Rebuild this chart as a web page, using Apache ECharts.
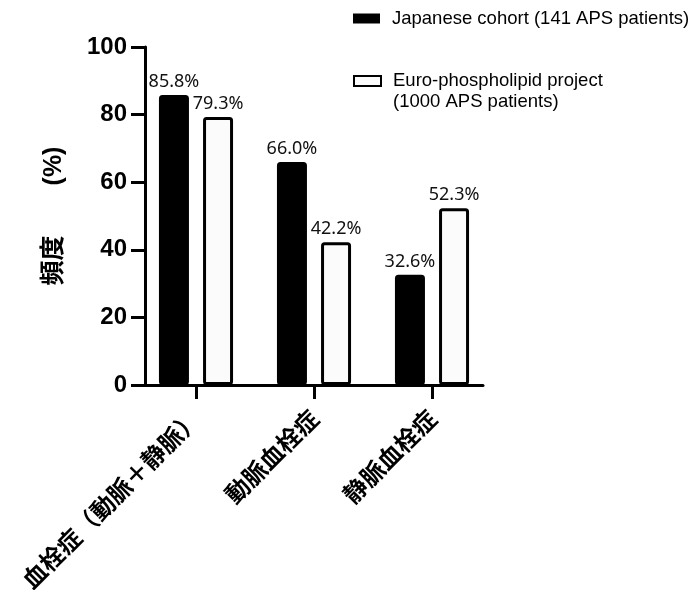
<!DOCTYPE html>
<html><head><meta charset="utf-8">
<script src="https://cdn.jsdelivr.net/npm/echarts@6/dist/echarts.min.js"></script>
<style>html,body{margin:0;padding:0;background:#fff}#c{width:691px;height:590px}</style>
</head><body><div id="c"></div>
<script>
const categories = ['血栓症（動脈＋静脈）', '動脈血栓症', '静脈血栓症'];
const japanese = [85.8, 66.0, 32.6];
const euro = [79.3, 42.2, 52.3];
const seriesNames = ['Japanese cohort (141 APS patients)', 'Euro-phospholipid project\n(1000 APS patients)'];
const yMin = 0, yMax = 100, yInterval = 20;
const yName = '頻度\u3000\u3000(%)';

const chart = echarts.init(document.getElementById('c'), null, {renderer: 'canvas'});
const labelStyle = {
  show: true, position: 'top', distance: 4, fontSize: 18,
  fontFamily: "'Noto Sans', 'Open Sans', sans-serif", color: '#111',
  formatter: p => p.value.toFixed(1) + '%'
};
chart.setOption({
  animation: false,
  backgroundColor: '#fff',
  grid: [
    {left: 137, width: 354, top: 47, height: 338, containLabel: false, outerBoundsMode: 'none'},
    {left: 145, width: 338, top: 47, height: 338, containLabel: false, outerBoundsMode: 'none'}
  ],
  legend: [
    {data: [seriesNames[0]], left: 353, top: 9, orient: 'vertical', padding: 0,
     itemWidth: 27, itemHeight: 10, icon: 'rect', selectedMode: false,
     itemStyle: {borderWidth: 0},
     textStyle: {fontSize: 18.5, fontFamily: "'Liberation Sans', Arial, sans-serif", color: '#000', padding: [0, 0, 0, 7]}},
    {data: [seriesNames[1]], left: 353, top: 49.5, orient: 'vertical', padding: 0,
     itemWidth: 27, itemHeight: 10, icon: 'rect', selectedMode: false,
     formatter: name => '\n' + name,
     textStyle: {fontSize: 18.5, lineHeight: 21, fontFamily: "'Liberation Sans', Arial, sans-serif", color: '#000', padding: [0, 0, 0, 7]}}
  ],
  xAxis: [
    {type: 'category', gridIndex: 0, data: categories,
     axisLine: {show: false},
     axisTick: {show: true, alignWithLabel: true, length: 14, lineStyle: {width: 3, color: '#000'}},
     axisLabel: {rotate: 45, interval: 0, fontSize: 24, fontWeight: 'bold', margin: 29, color: '#000',
                 fontFamily: "'Noto Sans CJK JP', sans-serif"}},
    {type: 'value', gridIndex: 1, min: 0, max: 1,
     axisLine: {show: true, lineStyle: {width: 3, color: '#000'}},
     axisTick: {show: false}, axisLabel: {show: false}, splitLine: {show: false}}
  ],
  yAxis: [
    {type: 'value', gridIndex: 0, min: yMin, max: yMax, show: false, splitLine: {show: false}},
    {type: 'value', gridIndex: 1, min: yMin, max: yMax, interval: yInterval,
     axisLine: {show: true, lineStyle: {width: 3, color: '#000'}},
     axisTick: {show: true, length: 14, lineStyle: {width: 3, color: '#000'}},
     axisLabel: {fontSize: 24, fontWeight: 'bold', color: '#000', margin: 18,
                 fontFamily: "'Liberation Sans', Arial, sans-serif"},
     splitLine: {show: false},
     name: yName, nameLocation: 'middle', nameGap: 78,
     nameTextStyle: {fontSize: 25, fontWeight: 'bold', color: '#000',
                     fontFamily: "'Liberation Sans', 'Noto Sans CJK JP', sans-serif"}}
  ],
  series: [
    {name: seriesNames[0], type: 'bar', xAxisIndex: 0, yAxisIndex: 0, data: japanese,
     barWidth: 30, barGap: '47%',
     itemStyle: {color: '#000', borderColor: '#000', borderWidth: 3, borderRadius: 2},
     label: labelStyle},
    {name: seriesNames[1], type: 'bar', xAxisIndex: 0, yAxisIndex: 0, data: euro,
     barWidth: 30, barGap: '47%',
     itemStyle: {color: '#fbfbfb', borderColor: '#000', borderWidth: 3, borderRadius: 2},
     label: labelStyle}
  ]
});
</script></body></html>
